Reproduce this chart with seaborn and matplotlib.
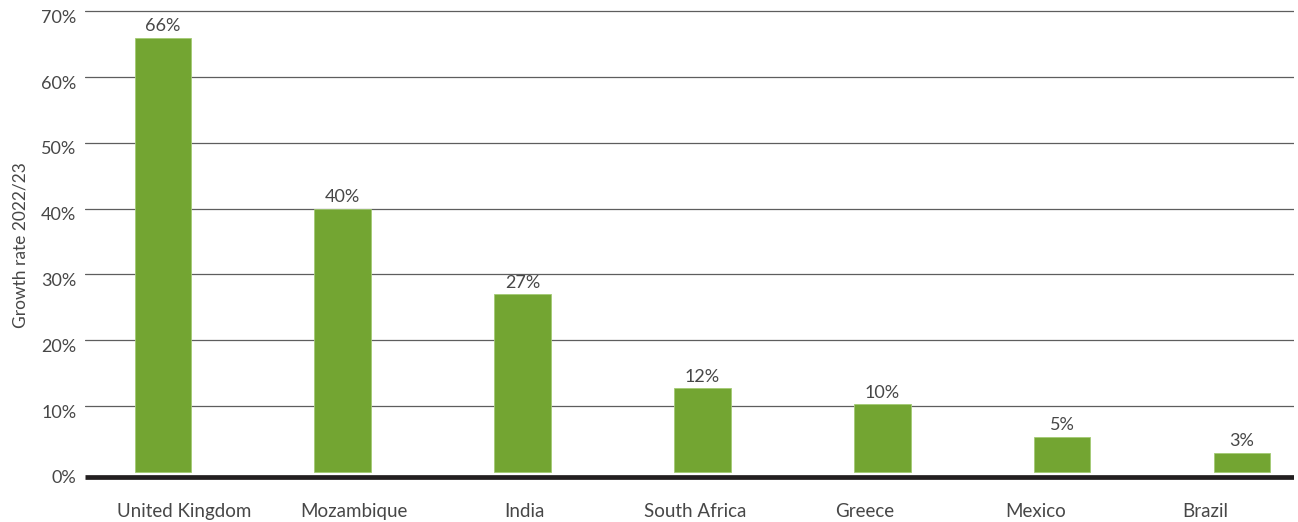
import numpy as np
import matplotlib
matplotlib.use("Agg")
import matplotlib.pyplot as plt
import matplotlib.transforms as mtransforms
import seaborn as sns

countries = ["United Kingdom", "Mozambique", "India", "South Africa", "Greece", "Mexico", "Brazil"]
growth = [66, 40, 27, 12.7, 10.3, 5.3, 2.9]
value_labels = ["66%", "40%", "27%", "12%", "10%", "5%", "3%"]
y_ticks = [0, 10, 20, 30, 40, 50, 60, 70]
y_tick_labels = [f"{v}%" for v in y_ticks]

BAR_GREEN = "#73a532"
TEXT_GREY = "#474747"
GRID_GREY = "#5e5e5e"

sns.set_theme(style="white")
plt.rcParams["font.family"] = ["Lato", "DejaVu Sans"]

fig = plt.figure(figsize=(12.98, 5.22), dpi=100)
ax = fig.add_axes([0.0657, 0.081, 0.9312, 0.8998])

sns.barplot(x=countries, y=growth, color=BAR_GREEN, saturation=1, width=0.315,
            edgecolor="#a3cb74", linewidth=0.6, ax=ax)

ax.set_xlim(-0.432, 6.29)
ax.set_ylim(-1.2, 70.2)

# horizontal grid, no line at zero (the thick baseline sits just below it)
for v in y_ticks[1:]:
    ax.axhline(v, color=GRID_GREY, lw=0.9, zorder=0)
ax.axhline(-0.75, color="#231f20", lw=3.4, zorder=3, solid_capstyle="butt")

ax.set_yticks(y_ticks, labels=y_tick_labels)
ax.tick_params(axis="y", length=0, pad=6.5, labelsize=13, labelcolor=TEXT_GREY)
shift = mtransforms.ScaledTranslation(0, -5 / 100, fig.dpi_scale_trans)
for lab in ax.get_yticklabels():
    lab.set_transform(lab.get_transform() + shift)

# category labels are spaced a little tighter than the bars
tick_pos = 0.117 + 0.947 * np.arange(len(countries))
ax.set_xticks(tick_pos, labels=countries)
ax.tick_params(axis="x", length=0, pad=17, labelsize=13.5, labelcolor=TEXT_GREY)

for i, (h, txt) in enumerate(zip(growth, value_labels)):
    ax.annotate(txt, (i, h), xytext=(0, 2.5), textcoords="offset points",
                ha="center", va="bottom", fontsize=13, color=TEXT_GREY)

ax.set_xlabel("")
ax.set_ylabel("Growth rate 2022/23", fontsize=12.5, color=TEXT_GREY, labelpad=9)
sns.despine(ax=ax, left=True, bottom=True)

fig.savefig("out.png", dpi=100)
